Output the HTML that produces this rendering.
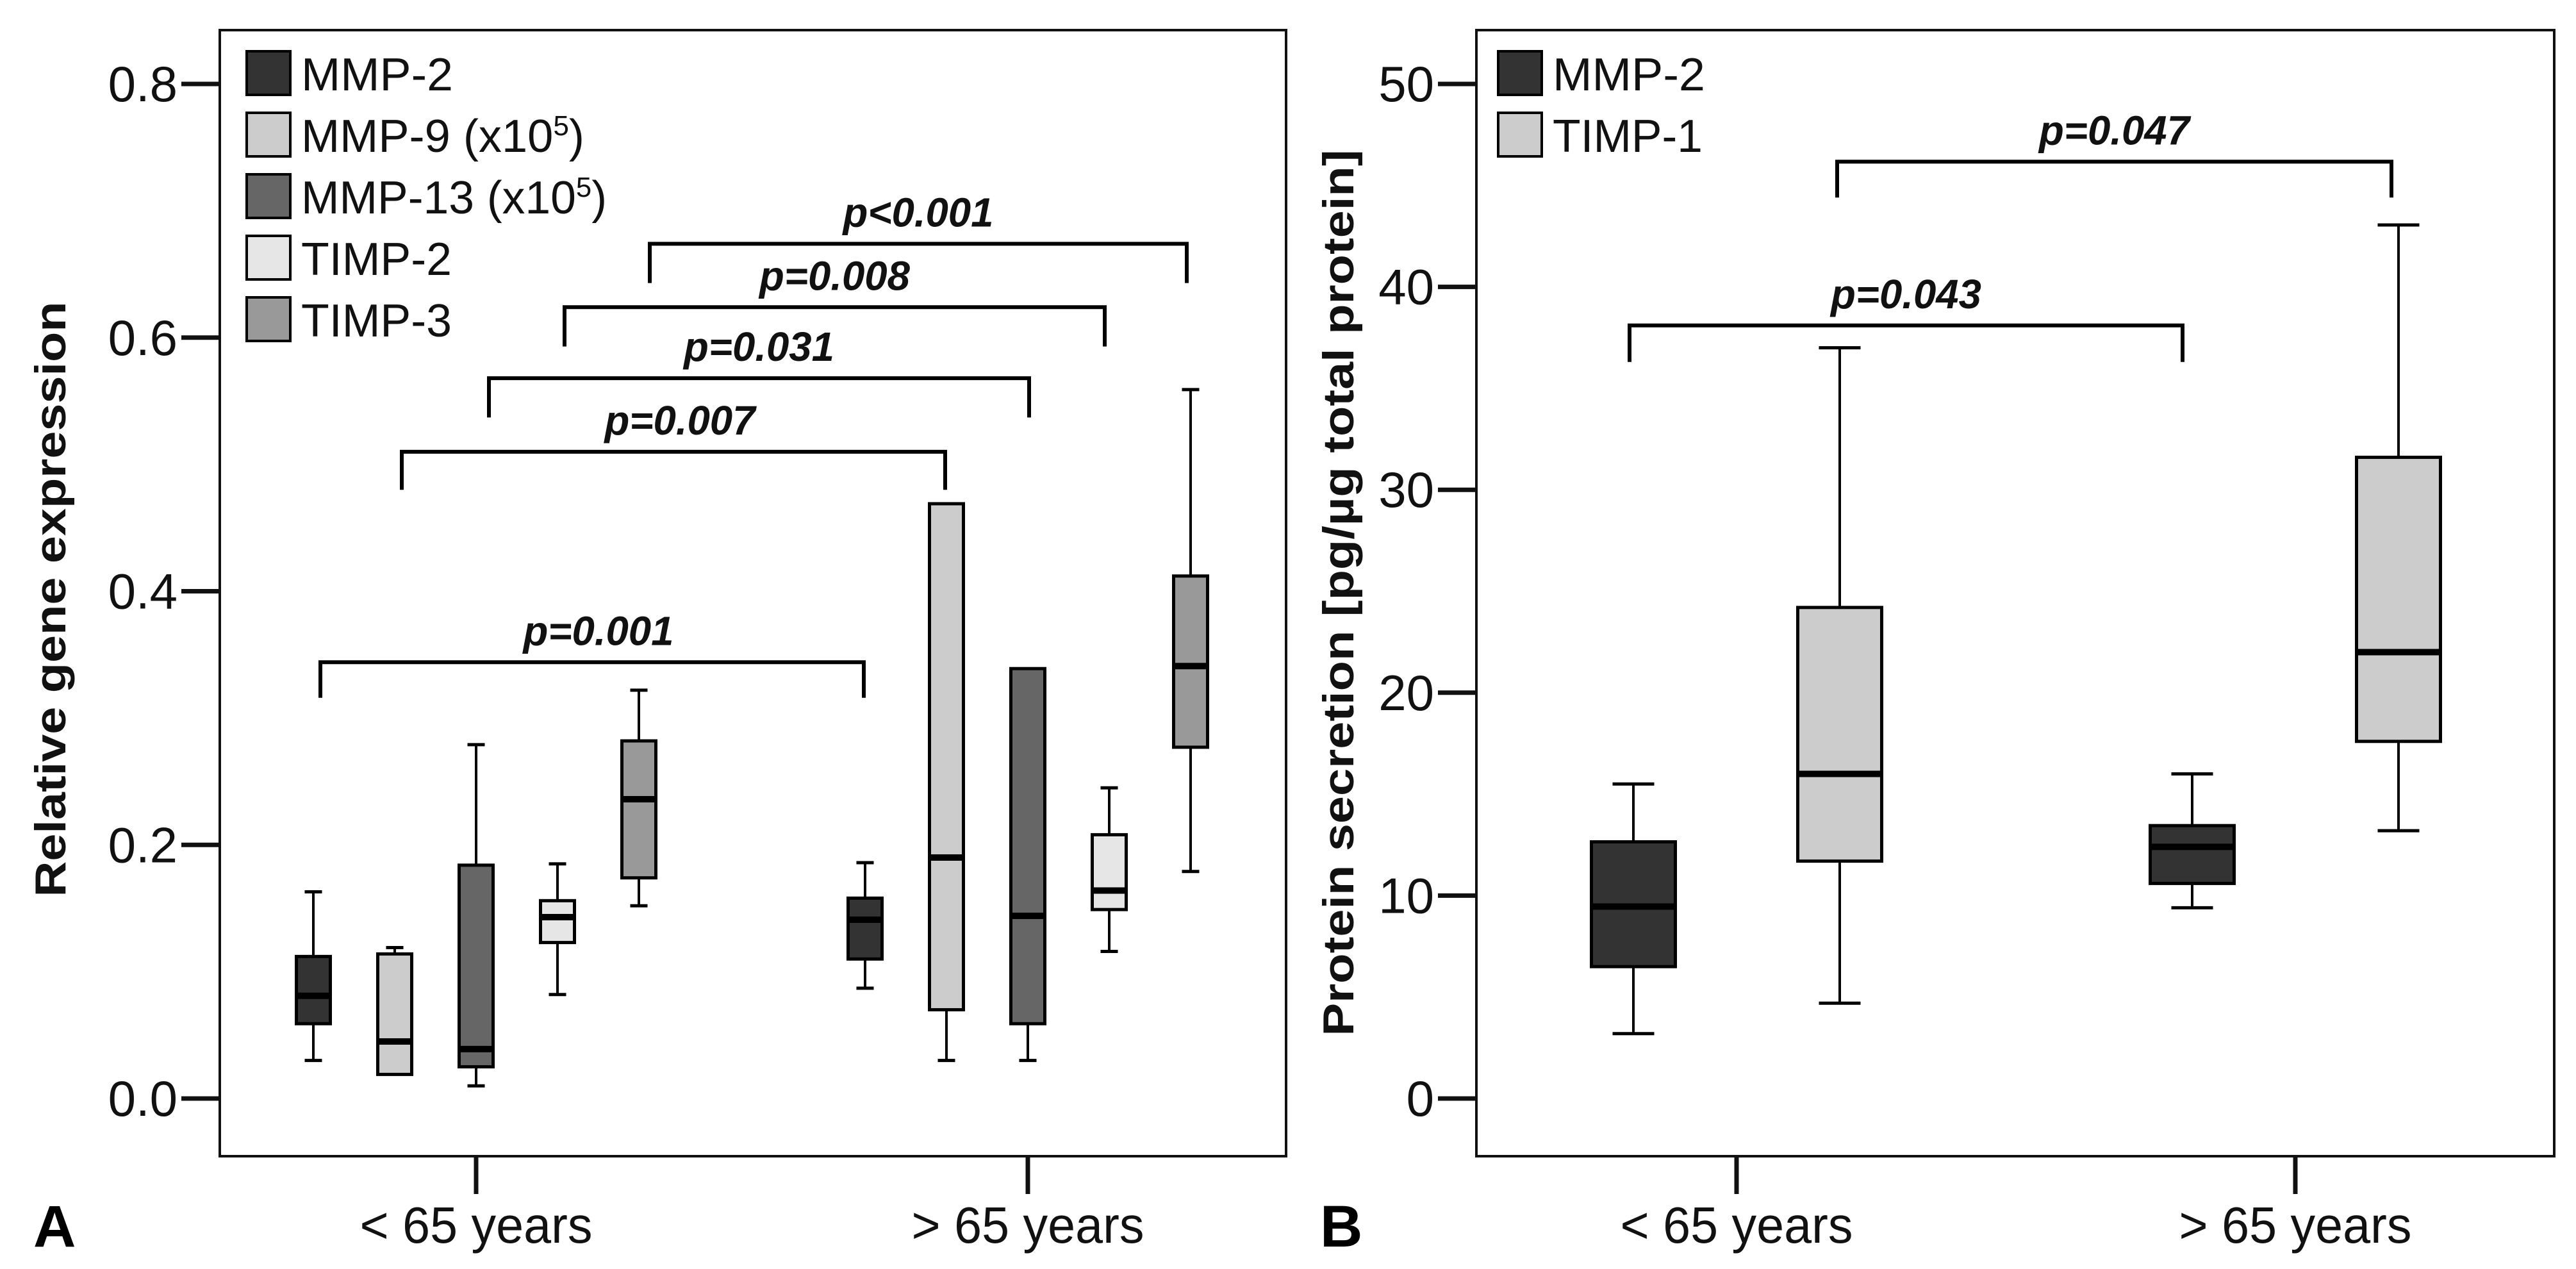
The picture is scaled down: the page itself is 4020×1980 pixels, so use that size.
<!DOCTYPE html>
<html><head><meta charset="utf-8"><style>
html,body{margin:0;padding:0;background:#fff;}
svg{display:block;font-family:"Liberation Sans",sans-serif;}
</style></head><body>
<svg id="fig" width="4020" height="1980" viewBox="0 0 4020 1980" xmlns="http://www.w3.org/2000/svg"></svg>
<script>
// ---- Panel A data ----
const catsA = ["< 65 years", "> 65 years"];
const seriesA = ["MMP-2", "MMP-9", "MMP-13", "TIMP-2", "TIMP-3"];
const colorsA = ["#333333", "#cccccc", "#666666", "#e6e6e6", "#999999"];
const minA = [[0.030,0.019,0.010,0.082,0.152],[0.087,0.030,0.030,0.116,0.179]];
const q1A  = [[0.059,0.019,0.025,0.123,0.174],[0.110,0.070,0.059,0.149,0.277]];
const medA = [[0.081,0.045,0.039,0.143,0.236],[0.141,0.190,0.144,0.164,0.341]];
const q3A  = [[0.112,0.114,0.184,0.156,0.282],[0.158,0.469,0.339,0.208,0.412]];
const maxA = [[0.163,0.119,0.279,0.185,0.322],[0.186,0.469,0.339,0.245,0.559]];
const ticksA = [0.0, 0.2, 0.4, 0.6, 0.8];
const pLabelsA = ["p=0.001","p=0.007","p=0.031","p=0.008","p<0.001"];
const pHeightsA = [0.344,0.510,0.568,0.624,0.674];
const pLegsA = [0.316,0.480,0.537,0.593,0.643];
// ---- Panel B data ----
const catsB = ["< 65 years", "> 65 years"];
const seriesB = ["MMP-2", "TIMP-1"];
const colorsB = ["#333333", "#cccccc"];
const minB = [[3.2,4.7],[9.4,13.2]];
const q1B  = [[6.5,11.7],[10.6,17.6]];
const medB = [[9.46,16.0],[12.4,22.0]];
const q3B  = [[12.65,24.2],[13.45,31.6]];
const maxB = [[15.5,37.0],[16.0,43.05]];
const ticksB = [0, 10, 20, 30, 40, 50];
const pLabelsB = ["p=0.043","p=0.047"];
const pHeightsB = [38.1,46.17];
const pLegsB = [36.3,44.4];

const NS = "http://www.w3.org/2000/svg";
const svg = document.getElementById("fig");
function mk(tag, attrs, parent, text){
  const e = document.createElementNS(NS, tag);
  for (const k in attrs) e.setAttribute(k, attrs[k]);
  if (text !== undefined) e.textContent = text;
  (parent || svg).appendChild(e);
  return e;
}

function panel(o){
  const g = mk("g", {});
  
  
  const y = v => o.y0 - (v / o.vmax) * (o.y0 - o.ytop);
  const fr = mk("rect", {x:o.L, y:47, width:o.R-o.L, height:1804-47, fill:"none", stroke:"#111", "stroke-width":4}, g);
  
  
  o.ticks.forEach(t => {
    const yy = y(t);
    const tl = mk("line", {x1:o.L-60, x2:o.L, y1:yy, y2:yy, stroke:"#111", "stroke-width":7}, g);
    
    
    const tx = mk("text", {x:o.L-66, y:yy+27, "text-anchor":"end", "font-size":78, fill:"#111"}, g, o.fmt(t));
    
    
  });
  const yt = mk("text", {x:0, y:0, transform:`translate(${o.titleX},${o.titleY}) rotate(-90)`, "text-anchor":"middle", "font-size":68, "font-weight":"bold", fill:"#111", textLength:o.titleLen, lengthAdjust:"spacingAndGlyphs"}, g, o.title);
  
  
  o.cats.forEach((c, ci) => {
    const cx = o.catX[ci];
    const xt = mk("line", {x1:cx, x2:cx, y1:1804, y2:1863, stroke:"#111", "stroke-width":7}, g);
    
    
    const xl = mk("text", {x:cx, y:1939, "text-anchor":"middle", "font-size":80, fill:"#111", textLength:363, lengthAdjust:"spacingAndGlyphs"}, g, c);
    
    
  });
  const pl = mk("text", {x:o.letterX, y:1945, "font-size":92, "font-weight":"bold", fill:"#000"}, g, o.letter);
  
  
  const ns = o.series.length;
  o.cats.forEach((c, ci) => {
    o.series.forEach((s, si) => {
      const cx = o.catX[ci] + (si - (ns - 1) / 2) * o.slot;
      const bg = mk("g", {}, g);
      
      
      const yMin = y(o.mn[ci][si]), yQ1 = y(o.q1[ci][si]), yMed = y(o.md[ci][si]), yQ3 = y(o.q3[ci][si]), yMax = y(o.mx[ci][si]);
      mk("line", {x1:cx, x2:cx, y1:yMax, y2:yQ3, stroke:"#000", "stroke-width":4}, bg);
      mk("line", {x1:cx, x2:cx, y1:yQ1, y2:yMin, stroke:"#000", "stroke-width":4}, bg);
      if (o.mx[ci][si] > o.q3[ci][si]) mk("line", {x1:cx-o.cap/2, x2:cx+o.cap/2, y1:yMax, y2:yMax, stroke:"#000", "stroke-width":5}, bg);
      if (o.mn[ci][si] < o.q1[ci][si]) mk("line", {x1:cx-o.cap/2, x2:cx+o.cap/2, y1:yMin, y2:yMin, stroke:"#000", "stroke-width":5}, bg);
      mk("rect", {x:cx-o.bw/2, y:yQ3, width:o.bw, height:Math.max(1, yQ1-yQ3), fill:o.colors[si], stroke:"#000", "stroke-width":5}, bg);
      mk("line", {x1:cx-o.bw/2, x2:cx+o.bw/2, y1:yMed, y2:yMed, stroke:"#000", "stroke-width":10}, bg);
    });
  });
  o.brackets.forEach((b, bi) => {
    const bg = mk("g", {}, g);
    
    
    const x1 = o.catX[0] + b[0], x2 = o.catX[1] + b[1];
    const yh = y(o.pH[bi]), yl = y(o.pL[bi]);
    mk("polyline", {points:`${x1},${yl} ${x1},${yh} ${x2},${yh} ${x2},${yl}`, fill:"none", stroke:"#000", "stroke-width":6}, bg);
    const t = mk("text", {x:(x1+x2)/2 + b[2], y:yh - 27, "text-anchor":"middle", "font-size":64, "font-weight":"bold", "font-style":"italic", fill:"#111", textLength:235, lengthAdjust:"spacingAndGlyphs"}, bg, o.pl[bi]);
    
    
  });
  const lg = mk("g", {}, g);
  
  
  o.series.forEach((s, si) => {
    const ly = 80 + si * 96;
    const le = mk("g", {}, lg);
    
    
    mk("rect", {x:o.legX, y:ly, width:68, height:68, fill:o.colors[si], stroke:"#000", "stroke-width":4}, le);
    const tt = mk("text", {x:o.legX+85, y:ly+61, "font-size":72, fill:"#111", textLength:o.legLen[si], lengthAdjust:"spacingAndGlyphs"}, le);
    tt.textContent = s;
    if (o.legSup[si]) {
      tt.appendChild(document.createTextNode(" (x10"));
      const sp = document.createElementNS(NS, "tspan");
      sp.setAttribute("dy", -26); sp.setAttribute("font-size", 44); sp.textContent = "5";
      tt.appendChild(sp);
      const sp2 = document.createElementNS(NS, "tspan");
      sp2.setAttribute("dy", 26); sp2.textContent = ")";
      tt.appendChild(sp2);
    }
  });
}

panel({name:"panel-a", L:343, R:2007, y0:1714, ytop:131, vmax:0.8, ticks:ticksA, fmt:t=>t.toFixed(1),
  title:"Relative gene expression", titleX:102, titleY:935, titleLen:929,
  cats:catsA, catX:[743,1604], letter:"A", letterX:52,
  series:seriesA, colors:colorsA, slot:127, bw:53, cap:27,
  mn:minA, q1:q1A, md:medA, q3:q3A, mx:maxA,
  brackets:[[-243,-256,10],[-116,-129,10],[20,2,0],[138,120,0],[271,248,0]],
  pH:pHeightsA, pL:pLegsA, pl:pLabelsA,
  legX:385, legLen:[237,442,477,235,235], legSup:[0,1,1,0,0]});

panel({name:"panel-b", L:2304, R:3986, y0:1714, ytop:131, vmax:50, ticks:ticksB, fmt:t=>String(t),
  title:"Protein secretion [pg/\u00b5g total protein]", titleX:2112, titleY:925, titleLen:1383,
  cats:catsB, catX:[2710,3582], letter:"B", letterX:2060,
  series:seriesB, colors:colorsB, slot:322, bw:131, cap:65,
  mn:minB, q1:q1B, md:medB, q3:q3B, mx:maxB,
  brackets:[[-167,-176,0],[157,150,0]],
  pH:pHeightsB, pL:pLegsB, pl:pLabelsB,
  legX:2338, legLen:[238,234], legSup:[0,0]});
</script>
</body></html>
